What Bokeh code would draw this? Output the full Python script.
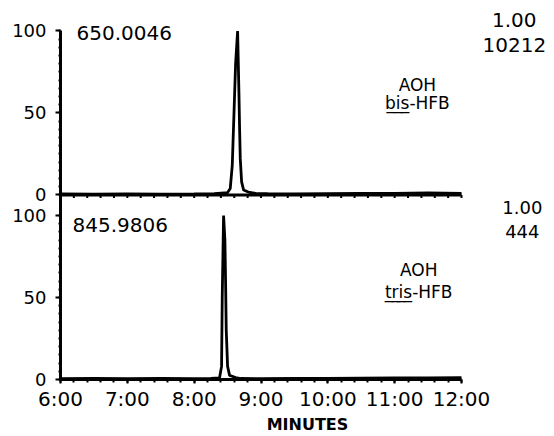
from bokeh.plotting import figure
from bokeh.models import Range1d, FixedTicker, Label, ColumnDataSource, CustomJSTickFormatter
from bokeh.transform import dodge
from bokeh.embed import file_html
from bokeh.resources import INLINE

# ---- data ----
# top trace: m/z 650.0046, AOH bis-HFB
t_bis = [6.00, 6.50, 7.00, 7.50, 8.00, 8.30, 8.50, 8.54, 8.57, 8.60, 8.62, 8.65,
         8.67, 8.68, 8.69, 8.71, 8.74, 8.81, 8.92, 9.10, 9.50, 10.00, 10.50, 11.00, 11.50, 12.00]
i_bis = [0.6, 0.5, 0.7, 0.5, 0.6, 0.8, 1.5, 4.0, 18.0, 55.0, 80.0, 100.0,
         62.0, 40.0, 22.0, 8.0, 3.0, 1.8, 1.0, 0.8, 0.7, 0.8, 0.9, 1.0, 1.2, 1.0]

# bottom trace: m/z 845.9806, AOH tris-HFB
t_tris = [6.00, 6.50, 7.00, 7.50, 8.00, 8.25, 8.38, 8.41, 8.42, 8.44, 8.46, 8.47,
          8.48, 8.50, 8.53, 8.62, 8.70, 9.00, 9.50, 10.00, 10.50, 11.00, 11.50, 12.00]
i_tris = [0.5, 0.6, 0.5, 0.6, 0.5, 0.6, 1.0, 8.0, 50.0, 100.0, 85.0, 60.0,
          30.0, 8.0, 2.5, 1.2, 0.6, 0.5, 0.6, 0.7, 0.8, 0.9, 1.0, 1.2]

x_ticks = [6, 7, 8, 9, 10, 11, 12]
x_tick_labels = ["6:00", "7:00", "8:00", "9:00", "10:00", "11:00", "12:00"]
y_ticks = [0, 50, 100]

mass_labels = ["650.0046", "845.9806"]
scale_labels = [["1.00", "10212"], ["1.00", "444"]]
compound_labels = [["AOH", "b\u0332i\u0332s\u0332-HFB"], ["AOH", "t\u0332r\u0332i\u0332s\u0332-HFB"]]
x_axis_title = "MINUTES"

# ---- layout / styling ----
FONT = "DejaVu Sans"
W, H = 554, 436
LEFT, BOTTOM = 60, 56
FRAME_W, FRAME_H = W - LEFT, H - BOTTOM          # 494 x 380
PX_PER_MIN = 401 / 6.0                            # 6:00 -> x=60, 12:00 -> x=461
PX_PER_UNIT = 185 / 112.5                         # vertical scale of both panels
TOP_OFF = 112.5                                   # top panel baseline offset (data units)

x_end = 6 + FRAME_W / PX_PER_MIN
y_end = FRAME_H / PX_PER_UNIT

p = figure(width=W, height=H, x_range=Range1d(6, x_end), y_range=Range1d(0, y_end),
           output_backend="svg", toolbar_location=None,
           min_border_left=LEFT, min_border_right=0, min_border_top=0,
           min_border_bottom=BOTTOM)
p.outline_line_color = None
p.xgrid.visible = False
p.ygrid.visible = False
p.background_fill_color = "white"
p.border_fill_color = "white"

# y axis (both panels share one axis with offset ticks)
ya = p.yaxis[0]
y_major = y_ticks + [t + TOP_OFF for t in y_ticks]
y_minor = [v for v in range(0, 101, 5)] + [v + TOP_OFF for v in range(0, 101, 5)]
ya.ticker = FixedTicker(ticks=y_major, minor_ticks=y_minor)
ya.formatter = CustomJSTickFormatter(
    args=dict(off=TOP_OFF),
    code="return (tick >= off - 1e-6 ? tick - off : tick).toFixed(0);")
ya.bounds = (0, TOP_OFF + 100)

# x axis (bottom panel)
xa = p.xaxis[0]
x_minor = [6 + k * 0.2 for k in range(31)]
xa.ticker = FixedTicker(ticks=x_ticks, minor_ticks=x_minor)
xa.major_label_overrides = {t: l for t, l in zip(x_ticks, x_tick_labels)}
xa.bounds = (x_ticks[0], x_ticks[-1])
xa.axis_label = x_axis_title
xa.axis_label_text_font = FONT
xa.axis_label_text_font_style = "bold"
xa.axis_label_text_font_size = "16px"
xa.axis_label_text_color = "black"
xa.axis_label_standoff = 1
xa.major_label_text_font_size = "20px"
xa.major_label_standoff = 3

for ax in (xa, ya):
    ax.axis_line_width = 3
    ax.axis_line_color = "black"
    ax.major_tick_line_width = 2
    ax.minor_tick_line_width = 2
    ax.major_tick_line_color = "black"
    ax.minor_tick_line_color = "black"
    ax.major_tick_in = 0
    ax.minor_tick_in = 0
    ax.major_label_text_font = FONT
    ax.major_label_text_color = "black"
ya.major_tick_out = 5
ya.minor_tick_out = 2
ya.major_label_text_font_size = "18px"
ya.major_label_standoff = 9
xa.major_tick_out = 4
xa.minor_tick_out = 3

# top panel's time axis (line with minor ticks, no labels)
tick_len = 3 / PX_PER_UNIT
p.line([x_ticks[0], x_ticks[-1]], [TOP_OFF, TOP_OFF], line_color="black", line_width=3)
p.segment(x0=x_minor, x1=x_minor, y0=[TOP_OFF] * len(x_minor),
          y1=[TOP_OFF - tick_len] * len(x_minor), line_color="black", line_width=2)

# traces
src_bis = ColumnDataSource(dict(t=t_bis, i=i_bis))
src_tris = ColumnDataSource(dict(t=t_tris, i=i_tris))
p.line(x="t", y=dodge("i", TOP_OFF, range=p.y_range), source=src_bis,
       line_color="black", line_width=2.8)
p.line(x="t", y="i", source=src_tris, line_color="black", line_width=2.8)


def lbl(x, y, text, size, align="center"):
    p.add_layout(Label(x=x, y=y, text=text, text_font=FONT, text_font_size=size,
                       text_baseline="middle", text_align=align, text_color="black"))


# top panel texts (panel units + offset)
lbl(6.24, TOP_OFF + 98.5, mass_labels[0], "20px", "left")
lbl(12.79, TOP_OFF + 106.4, scale_labels[0][0], "20px")
lbl(12.79, TOP_OFF + 91.2, scale_labels[0][1], "20px")
lbl(11.34, TOP_OFF + 66.9, compound_labels[0][0], "17px")
lbl(11.34, TOP_OFF + 55.9, compound_labels[0][1], "17px")

# bottom panel texts
lbl(6.18, 94.3, mass_labels[1], "20px", "left")
lbl(12.91, 104.6, scale_labels[1][0], "18px")
lbl(12.91, 90.0, scale_labels[1][1], "18px")
lbl(11.36, 66.9, compound_labels[1][0], "17px")
lbl(11.36, 53.5, compound_labels[1][1], "17px")

open("out.html", "w").write(file_html(p, INLINE))
